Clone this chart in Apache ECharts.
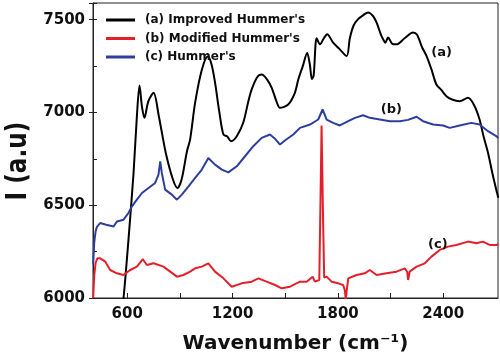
<!DOCTYPE html>
<html>
<head>
<meta charset="utf-8">
<script src="https://cdn.jsdelivr.net/npm/echarts@6/dist/echarts.min.js"></script>
<style>html,body{margin:0;padding:0;background:#fff;}#c{width:500px;height:361px;}</style>
</head>
<body>
<div id="c"></div>
<script>
// ---- data ----
const seriesNames = ["(a) Improved Hummer's", "(b) Modified Hummer's", "(c) Hummer's"];
const seriesColors = ['#000000', '#e3202a', '#2e3e9c'];

const xA = [570,579,607,636,655,670,684,698,720,750,780,820,860,886,910,940,958,987,1025,1059,1080,1100,1125,1148,1170,1191,1224,1261,1290,1309,1340,1366,1395,1423,1450,1470,1517,1555,1575,1600,1625,1640,1652,1662,1679,1698,1720,1739,1773,1811,1850,1868,1890,1915,1945,1972,2000,2020,2045,2058,2070,2086,2110,2134,2180,2228,2250,2280,2305,2333,2361,2390,2418,2450,2494,2541,2579,2607,2630,2655,2683,2702,2714];
const yA = [5950,6000,6313,6674,6980,7146,7030,6971,7060,7106,6980,6780,6640,6593,6640,6790,6854,7054,7230,7301,7260,7162,7000,6881,6870,6845,6872,6946,7060,7124,7190,7205,7180,7133,7060,7025,7043,7106,7180,7250,7320,7260,7180,7200,7400,7367,7400,7422,7376,7340,7304,7400,7470,7503,7525,7539,7520,7485,7420,7394,7376,7404,7370,7367,7400,7431,7420,7350,7304,7232,7151,7120,7088,7070,7061,7079,7034,6962,6870,6783,6660,6584,6540];

const xB = [406,412,420,430,446,475,503,541,579,617,655,689,712,750,806,845,883,920,958,987,1025,1062,1100,1148,1195,1252,1309,1347,1394,1442,1480,1527,1584,1622,1656,1669,1694,1702,1707,1711,1716,1722,1736,1764,1802,1830,1840,1845,1850,1859,1906,1953,1982,2020,2077,2134,2181,2195,2200,2209,2248,2295,2333,2380,2427,2475,2541,2589,2626,2664,2702,2714];
const yB = [6000,6120,6190,6214,6214,6196,6151,6133,6124,6151,6169,6209,6178,6187,6169,6142,6115,6124,6142,6160,6169,6187,6142,6106,6061,6079,6088,6106,6088,6070,6052,6061,6088,6088,6115,6088,6097,6600,6930,6930,6400,6110,6115,6088,6079,6070,6040,5990,6040,6106,6124,6133,6151,6124,6133,6142,6160,6140,6097,6142,6169,6187,6223,6259,6277,6286,6304,6295,6304,6286,6286,6290];

const xC = [406,412,420,428,446,480,522,541,579,607,627,655,684,721,759,778,788,797,816,854,883,911,949,987,1025,1062,1100,1139,1176,1224,1271,1318,1366,1413,1440,1470,1500,1546,1584,1641,1688,1713,1736,1773,1811,1859,1897,1944,1982,2039,2096,2153,2200,2248,2285,2342,2399,2437,2494,2560,2607,2655,2702,2714];
const yC = [6180,6300,6360,6385,6404,6395,6385,6412,6422,6458,6494,6530,6566,6593,6620,6665,6737,6674,6584,6557,6530,6557,6602,6647,6692,6755,6719,6692,6677,6710,6764,6818,6863,6881,6860,6827,6850,6881,6917,6935,6962,7016,6962,6944,6930,6953,6971,6985,6971,6962,6953,6953,6960,6977,6953,6935,6930,6917,6930,6944,6935,6899,6872,6862];

const xTickValues = [600,900,1200,1500,1800,2100,2400];
const xLabelValues = [600,1200,1800,2400];
const yLabelValues = [6000,6500,7000,7500];

const curveLabels = ['(a)', '(b)', '(c)'];
const curveLabelX = [2391, 2105, 2369];
const curveLabelY = [7324, 7016, 6286];

// ---- chart ----
const FONT = 'DejaVu Sans';
function pairs(xs, ys){ return xs.map((x,i)=>[x, ys[i]]); }
const seriesData = [pairs(xA,yA), pairs(xB,yB), pairs(xC,yC)];
const seriesSmooth = [0.3, false, false];
const plain = v => String(v);

const chart = echarts.init(document.getElementById('c'), null, {renderer:'canvas'});
const option = {
  animation: false,
  backgroundColor: '#fff',
  grid: {left: 93, right: 2, top: 3, bottom: 63, show: true, borderColor: '#222', borderWidth: 1, backgroundColor: 'transparent'},
  legend: {
    orient: 'vertical', left: 101, top: 8.5, itemWidth: 29, itemHeight: 3, icon: 'rect', itemGap: 5.5,
    data: seriesNames,
    textStyle: {fontFamily: FONT, fontWeight: 'bold', fontSize: 12, color: '#111', lineHeight: 13, padding: [0,0,0,5]}
  },
  xAxis: {
    type: 'value', min: 405, max: 2712,
    name: 'Wavenumber (cm\u207B\u00B9)', nameLocation: 'middle', nameGap: 36,
    nameTextStyle: {fontFamily: FONT, fontWeight: 'bold', fontSize: 20, color: '#111'},
    axisLine: {show: true, lineStyle: {color: '#222', width: 1}},
    axisTick: {show: true, inside: true, length: 5, customValues: xTickValues, lineStyle: {color: '#222'}},
    axisLabel: {customValues: xLabelValues, formatter: plain, fontFamily: FONT, fontWeight: 'bold', fontSize: 15, color: '#111', margin: 9},
    splitLine: {show: false}
  },
  yAxis: [{
    type: 'value', min: 6000, max: 7590, interval: 500,
    axisLine: {show: true, lineStyle: {color: '#222', width: 1}},
    axisTick: {show: true, inside: false, length: 4, lineStyle: {color: '#222'}},
    axisLabel: {customValues: yLabelValues, formatter: plain, fontFamily: FONT, fontWeight: 'bold', fontSize: 15, color: '#111', margin: 8},
    splitLine: {show: false}
  }, {
    type: 'value', min: 6000, max: 7590, interval: 250, position: 'left',
    axisLine: {show: false},
    axisTick: {show: true, inside: true, length: 4, lineStyle: {color: '#222'}},
    axisLabel: {show: false},
    splitLine: {show: false}
  }],
  graphic: [{
    type: 'text', x: 18, y: 161, rotation: Math.PI/2, scaleX: 0.8,
    style: {text: 'I (a.u)', font: 'bold 29px "DejaVu Sans"', fill: '#111', textAlign: 'center', textVerticalAlign: 'middle'}
  }],
  series: seriesNames.map((n,i)=>({
    name: n, type: 'line', data: seriesData[i], showSymbol: false, clip: true,
    smooth: seriesSmooth[i],
    color: seriesColors[i],
    lineStyle: {width: 2, color: seriesColors[i]},
    markPoint: {
      symbol: 'circle', symbolSize: 0, silent: true,
      label: {show: true, position: 'inside', formatter: curveLabels[i], fontFamily: FONT, fontWeight: 'bold', fontSize: 13, color: '#111'},
      data: [{coord: [curveLabelX[i], curveLabelY[i]]}]
    }
  }))
};
chart.setOption(option);
</script>
</body>
</html>
